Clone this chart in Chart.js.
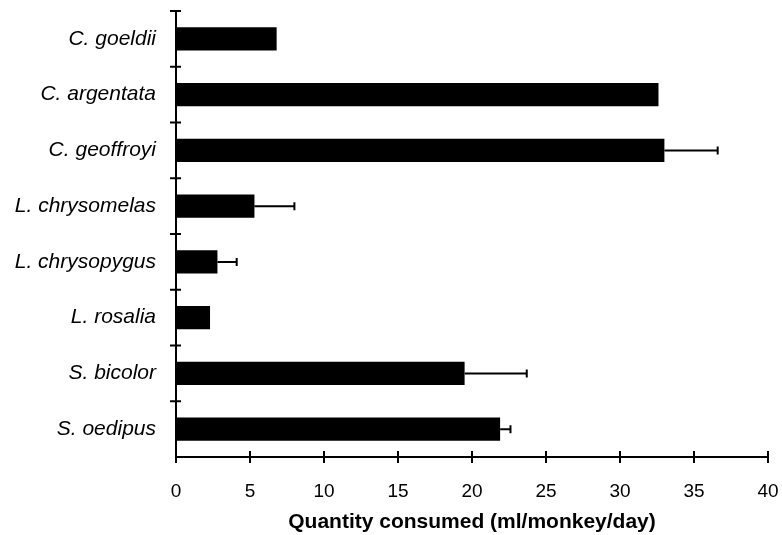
<!doctype html>
<html lang="en">
<head>
  <meta charset="utf-8" />
  <title>Quantity consumed</title>
  <script src="https://cdn.jsdelivr.net/npm/chart.js"></script>
  <style>
    html, body { margin: 0; padding: 0; background: #fff; }
    .chart-box { width: 782px; height: 535px; }
  </style>
</head>
<body>
  <div class="chart-box">
    <canvas id="consumedChart"></canvas>
  </div>

<script>
  // Data
  const species = ['C. goeldii', 'C. argentata', 'C. geoffroyi', 'L. chrysomelas',
                   'L. chrysopygus', 'L. rosalia', 'S. bicolor', 'S. oedipus'];
  const consumed = [6.8, 32.6, 33.0, 5.3, 2.8, 2.3, 19.5, 21.9];
  const errors = [null, null, 3.6, 2.7, 1.3, null, 4.2, 0.7];
  const xTicks = [0, 5, 10, 15, 20, 25, 30, 35, 40];

  // draws the + error whiskers and the crossing tick marks on both axes
  const extrasPlugin = {
    id: 'extras',
    afterDatasetsDraw(chart) {
      const ctx = chart.ctx;
      const x = chart.scales.x;
      const y = chart.scales.y;
      const area = chart.chartArea;
      ctx.save();
      ctx.strokeStyle = '#000';

      // error bars
      ctx.lineWidth = 2;
      errors.forEach((e, i) => {
        if (e == null) return;
        const x0 = x.getPixelForValue(consumed[i]);
        const x1 = x.getPixelForValue(consumed[i] + e);
        const yc = y.getPixelForValue(i);
        ctx.beginPath();
        ctx.moveTo(x0, yc);
        ctx.lineTo(x1, yc);
        ctx.moveTo(x1, yc - 4);
        ctx.lineTo(x1, yc + 4);
        ctx.stroke();
      });

      // y ticks at category boundaries
      const step = (area.bottom - area.top) / species.length;
      for (let j = 0; j < species.length; j++) {
        const py = area.top + j * step;
        ctx.beginPath();
        ctx.moveTo(area.left - 6, py);
        ctx.lineTo(area.left + 5, py);
        ctx.stroke();
      }

      // x ticks
      xTicks.forEach(v => {
        const px = x.getPixelForValue(v);
        ctx.beginPath();
        ctx.moveTo(px, area.bottom - 6);
        ctx.lineTo(px, area.bottom + 6);
        ctx.stroke();
      });
      ctx.restore();
    }
  };

  const ctx = document.getElementById('consumedChart').getContext('2d');
  const chart = new Chart(ctx, {
    type: 'bar',
    data: {
      labels: species,
      datasets: [{
        data: consumed,
        backgroundColor: '#000',
        borderWidth: 0,
        categoryPercentage: 0.42,
        barPercentage: 1
      }]
    },
    options: {
      indexAxis: 'y',
      responsive: true,
      maintainAspectRatio: false,
      animation: false,
      layout: { padding: { top: 11, right: 14, left: 0, bottom: 0 } },
      plugins: {
        legend: { display: false },
        tooltip: { enabled: false }
      },
      scales: {
        x: {
          min: 0,
          max: 40,
          afterFit: s => {
            s.height = 78;
            s.paddingLeft = 0;
            s.paddingRight = 0;
          },
          afterBuildTicks: s => { s.ticks = xTicks.map(v => ({ value: v })); },
          grid: { display: false, drawTicks: false },
          border: { display: true, color: '#000', width: 2 },
          ticks: {
            color: '#000',
            padding: 23,
            font: { family: 'Liberation Sans, Arial', size: 19 }
          },
          title: {
            display: true,
            text: 'Quantity consumed (ml/monkey/day)',
            color: '#000',
            padding: { top: 0, bottom: 0 },
            font: { family: 'Liberation Sans, Arial', size: 21, weight: 'bold' }
          }
        },
        y: {
          afterFit: s => {
            s.width = 176;
            s.paddingTop = 0;
            s.paddingBottom = 0;
          },
          grid: { display: false, drawTicks: false },
          border: { display: true, color: '#000', width: 2 },
          ticks: {
            color: '#000',
            padding: 20,
            font: { family: 'Liberation Sans, Arial', size: 21, style: 'italic' }
          }
        }
      }
    },
    plugins: [extrasPlugin]
  });
</script>
</body>
</html>
